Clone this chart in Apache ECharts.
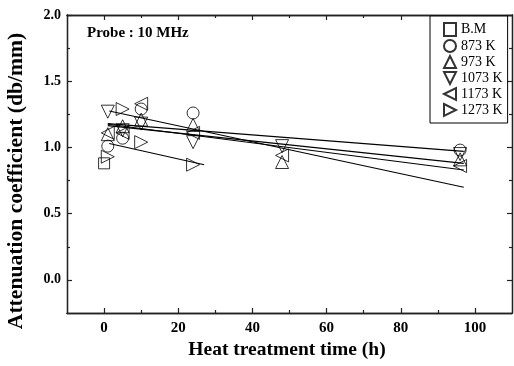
<!DOCTYPE html>
<html>
<head>
<meta charset="utf-8">
<script src="https://cdn.jsdelivr.net/npm/echarts@6/dist/echarts.min.js"></script>
<style>
  html, body { margin: 0; padding: 0; background: #fff; }
  #chart { width: 514px; height: 366px; }
</style>
</head>
<body>
<div id="chart"></div>
<script>
// Attenuation coefficient vs. heat treatment time, 10 MHz probe
const seriesNames = ['B.M', '873 K', '973 K', '1073 K', '1173 K', '1273 K'];

// measured points: [time (h), attenuation (db/mm)]
const dataBM    = [[0, 0.88]];
const data873   = [[1, 1.01], [5, 1.07], [10, 1.29], [24, 1.26], [96, 0.98]];
const data973   = [[1, 1.10], [5, 1.16], [10, 1.21], [24, 1.17], [48, 0.89], [96, 0.91]];
const data1073  = [[1, 1.27], [5, 1.13], [10, 1.18], [24, 1.04], [48, 1.01], [96, 0.95]];
const data1173  = [[1, 1.11], [5, 1.11], [10, 1.33], [24, 1.11], [48, 0.94], [96, 0.86]];
const data1273  = [[1, 0.93], [5, 1.29], [10, 1.04], [24, 0.87]];

// linear fit lines: [start, end]
const fit873  = [[1, 1.18], [97, 0.97]];
const fit973  = [[1, 1.165], [97, 0.88]];
const fit1073 = [[1, 1.175], [97, 0.83]];
const fit1173 = [[1.4, 1.275], [97, 0.70]];
const fit1273 = [[1.4, 1.03], [27, 0.87]];

// axis ticks
const xMajor = [0, 20, 40, 60, 80, 100];
const xMinor = [10, 30, 50, 70, 90];
const yMajor = [0, 0.5, 1.0, 1.5, 2.0];
const yMinor = [0.25, 0.75, 1.25, 1.75];

const SERIF = '"Liberation Serif", "Times New Roman", serif';
const AXIS_COLOR = '#222';

const symbols = [
  'rect',
  'circle',
  'path://M5,0 L10,10 L0,10 Z',   // up
  'path://M0,0 L10,0 L5,10 Z',    // down
  'path://M0,5 L10,0 L10,10 Z',   // left
  'path://M0,0 L10,5 L0,10 Z'     // right
];
const symbolSizes = [11, 12, 13, 13, 13, 13];
const pointSets = [dataBM, data873, data973, data1073, data1173, data1273];
const fitSets = [fit873, fit973, fit1073, fit1173, fit1273];

function xAxisDef(pos, ticks, len, labels) {
  return {
    type: 'value', position: pos, min: -10, max: 110,
    axisLine: { show: true, onZero: false, lineStyle: { color: AXIS_COLOR, width: 1.3 } },
    axisTick: { show: true, inside: true, length: len, customValues: ticks,
                lineStyle: { color: AXIS_COLOR, width: 1.2 } },
    axisLabel: labels ? { show: true, customValues: ticks, margin: 8,
                          color: '#000', fontFamily: SERIF, fontWeight: 'bold', fontSize: 15 }
                      : { show: false },
    splitLine: { show: false }
  };
}
function yAxisDef(pos, ticks, len, labels) {
  return {
    type: 'value', position: pos, min: -0.25, max: 2.0,
    axisLine: { show: true, onZero: false, lineStyle: { color: AXIS_COLOR, width: 1.3 } },
    axisTick: { show: true, inside: true, length: len, customValues: ticks,
                lineStyle: { color: AXIS_COLOR, width: 1.2 } },
    axisLabel: labels ? { show: true, customValues: ticks, margin: 6,
                          formatter: v => v.toFixed(1),
                          color: '#000', fontFamily: SERIF, fontWeight: 'bold', fontSize: 14 }
                      : { show: false },
    splitLine: { show: false }
  };
}

const series = [];
fitSets.forEach(d => {
  series.push({
    type: 'line', data: d, symbol: 'none', silent: true,
    lineStyle: { color: '#000', width: 1.1 }, z: 2
  });
});
seriesNames.forEach((name, i) => {
  series.push({
    name: name, type: 'scatter', data: pointSets[i],
    symbol: symbols[i], symbolSize: symbolSizes[i],
    itemStyle: { color: 'rgba(0,0,0,0)', borderColor: '#000', borderWidth: 1 },
    z: 3
  });
});

const chart = echarts.init(document.getElementById('chart'), null, { renderer: 'canvas' });
chart.setOption({
  animation: false,
  backgroundColor: '#fff',
  grid: { left: 67, right: 2, top: 15, bottom: 53 },
  xAxis: [
    xAxisDef('bottom', xMajor, 5, true),
    xAxisDef('bottom', xMinor, 3, false),
    xAxisDef('top', xMajor, 5, false),
    xAxisDef('top', xMinor, 3, false)
  ],
  yAxis: [
    yAxisDef('left', yMajor, 5, true),
    yAxisDef('left', yMinor, 3, false),
    yAxisDef('right', yMajor, 5, false),
    yAxisDef('right', yMinor, 3, false)
  ],
  legend: {
    orient: 'vertical', left: 430, top: 16,
    padding: [6, 5, 6, 13], itemGap: 2, itemWidth: 12, itemHeight: 13, itemTextGap: 6,
    borderColor: '#000', borderWidth: 1, backgroundColor: '#fff',
    data: seriesNames,
    textStyle: { color: '#000', fontFamily: SERIF, fontSize: 14, lineHeight: 13 }
  },
  graphic: [
    { type: 'text', left: 87, top: 26,
      style: { text: 'Probe : 10 MHz', fill: '#000', font: 'bold 15px ' + SERIF } },
    { type: 'text', x: 17, y: 181, rotation: Math.PI / 2, scaleX: 1.08,
      style: { text: 'Attenuation coefficient (db/mm)', fill: '#000',
               font: 'bold 20px ' + SERIF, align: 'center', verticalAlign: 'middle' } },
    { type: 'text', x: 287, y: 350,
      style: { text: 'Heat treatment time (h)', fill: '#000',
               font: 'bold 19.5px ' + SERIF, align: 'center', verticalAlign: 'middle' } }
  ],
  series: series
});
</script>
</body>
</html>
